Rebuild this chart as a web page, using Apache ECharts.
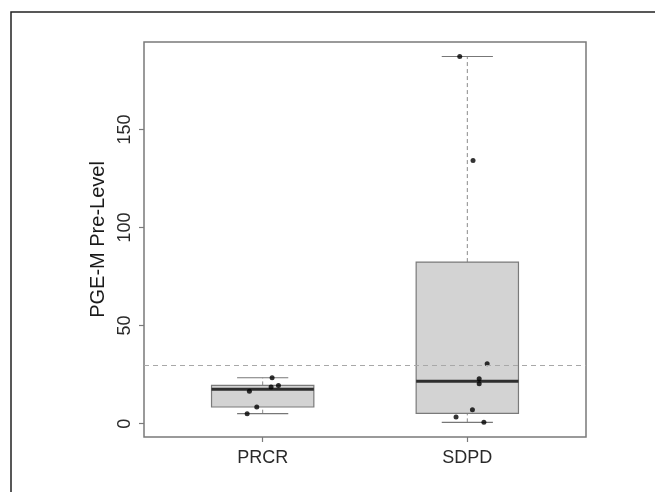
<!DOCTYPE html>
<html>
<head>
<meta charset="utf-8">
<script src="https://cdn.jsdelivr.net/npm/echarts@6/dist/echarts.min.js"></script>
<style>
  html, body { margin: 0; padding: 0; background: #fff; }
  #chart { width: 655px; height: 492px; }
</style>
</head>
<body>
<div id="chart"></div>
<script>
// Group names on the x axis
const categories = ['PRCR', 'SDPD'];

// Individual PGE-M pre-levels per group
const prcrValues = [23.4, 18.7, 19.5, 16.5, 8.5, 5.1];
const sdpdValues = [187.2, 134.2, 30.6, 22.9, 20.4, 7.1, 3.4, 0.66];

// Horizontal jitter of each point (in group units, around the group centre)
const prcrJitter = [0.046, 0.041, 0.077, -0.065, -0.029, -0.076];
const sdpdJitter = [-0.037, 0.028, 0.097, 0.058, 0.058, 0.025, -0.055, 0.081];

// Reference level drawn as a dashed line
const thresholdLevel = 30;

// Tick positions on the value axis
const yTicks = [0, 50, 100, 150];

// Tukey five-number summary (same hinges as R's fivenum)
function fivenum(values) {
  const x = values.slice().sort((a, b) => a - b);
  const n = x.length;
  const n4 = Math.floor((n + 3) / 2) / 2;
  const d = [1, n4, (n + 1) / 2, n + 1 - n4, n];
  return d.map(p => 0.5 * (x[Math.floor(p) - 1] + x[Math.ceil(p) - 1]));
}

// Box statistics with whiskers at the most extreme points within 1.5 IQR
function boxStats(values, pos) {
  const f = fivenum(values);
  const iqr = f[3] - f[1];
  const inside = values.filter(v => v >= f[1] - 1.5 * iqr && v <= f[3] + 1.5 * iqr);
  return [pos, Math.min.apply(null, inside), f[1], f[2], f[3], Math.max.apply(null, inside)];
}

const groups = [prcrValues, sdpdValues];
const jitters = [prcrJitter, sdpdJitter];
const boxData = groups.map((vals, i) => boxStats(vals, i + 1));
const pointData = [];
groups.forEach((vals, i) => {
  vals.forEach((v, k) => pointData.push([i + 1 + jitters[i][k], v]));
});

const FONT = '"Liberation Sans", Arial, Helvetica, sans-serif';
const BOX_HALF = 0.25;
const CAP_HALF = 0.125;

function renderBox(params, api) {
  const x = api.value(0);
  const lo = api.value(1), q1 = api.value(2), med = api.value(3), q3 = api.value(4), hi = api.value(5);
  const c = (xv, yv) => api.coord([xv, yv]);
  const pLo = c(x, lo), pQ1 = c(x, q1), pQ3 = c(x, q3), pHi = c(x, hi);
  const tl = c(x - BOX_HALF, q3), br = c(x + BOX_HALF, q1);
  const mL = c(x - BOX_HALF, med), mR = c(x + BOX_HALF, med);
  const capHiL = c(x - CAP_HALF, hi), capHiR = c(x + CAP_HALF, hi);
  const capLoL = c(x - CAP_HALF, lo), capLoR = c(x + CAP_HALF, lo);
  const whisker = { stroke: '#8a8a8a', lineWidth: 1, lineDash: [4, 3] };
  const cap = { stroke: '#777', lineWidth: 1.2 };
  return {
    type: 'group',
    children: [
      { type: 'line', shape: { x1: pQ3[0], y1: pQ3[1], x2: pHi[0], y2: pHi[1] }, style: whisker },
      { type: 'line', shape: { x1: pLo[0], y1: pLo[1], x2: pQ1[0], y2: pQ1[1] }, style: whisker },
      { type: 'line', shape: { x1: capHiL[0], y1: capHiL[1], x2: capHiR[0], y2: capHiR[1] }, style: cap },
      { type: 'line', shape: { x1: capLoL[0], y1: capLoL[1], x2: capLoR[0], y2: capLoR[1] }, style: cap },
      {
        type: 'rect',
        shape: { x: tl[0], y: tl[1], width: br[0] - tl[0], height: br[1] - tl[1] },
        style: { fill: '#d3d3d3', stroke: '#7a7a7a', lineWidth: 1.2 }
      },
      { type: 'line', shape: { x1: mL[0], y1: mL[1], x2: mR[0], y2: mR[1] }, style: { stroke: '#2e2e2e', lineWidth: 3 } }
    ]
  };
}

const chart = echarts.init(document.getElementById('chart'), null, { renderer: 'canvas' });

chart.setOption({
  animation: false,
  backgroundColor: '#fff',
  textStyle: { fontFamily: FONT },
  graphic: [{
    type: 'rect',
    shape: { x: 11, y: 12, width: 720, height: 600 },
    style: { fill: 'none', stroke: '#222', lineWidth: 1.5 },
    silent: true
  }],
  grid: {
    left: 144, top: 42, width: 442, height: 395,
    show: true, borderColor: '#7a7a7a', borderWidth: 1.5, backgroundColor: 'transparent'
  },
  xAxis: {
    type: 'value',
    min: 0.42, max: 2.58,
    axisLine: { show: false, onZero: false },
    splitLine: { show: false },
    axisTick: { show: true, customValues: [1, 2], length: 5, inside: false, lineStyle: { color: '#7a7a7a', width: 1.2 } },
    axisLabel: {
      customValues: [1, 2],
      formatter: v => categories[Math.round(v) - 1],
      fontSize: 18, color: '#2a2a2a', margin: 12, fontFamily: FONT
    }
  },
  yAxis: {
    type: 'value',
    min: -6.8, max: 194.6,
    name: 'PGE-M Pre-Level',
    nameLocation: 'middle',
    nameRotate: 90,
    nameGap: 36,
    nameTextStyle: { fontSize: 20, color: '#1a1a1a', fontFamily: FONT },
    axisLine: { show: false, onZero: false },
    splitLine: { show: false },
    axisTick: { show: true, customValues: yTicks, length: 5, inside: false, lineStyle: { color: '#7a7a7a', width: 1.2 } },
    axisLabel: {
      customValues: yTicks,
      rotate: 90,
      fontSize: 18, color: '#2a2a2a', margin: 10, fontFamily: FONT
    }
  },
  series: [
    {
      type: 'custom',
      name: 'box',
      renderItem: renderBox,
      data: boxData,
      encode: { x: 0, y: [1, 2, 3, 4, 5] },
      z: 2,
      silent: true
    },
    {
      type: 'scatter',
      name: 'points',
      data: pointData,
      symbol: 'circle',
      symbolSize: 5,
      itemStyle: { color: '#000' },
      z: 4,
      silent: true,
      markLine: {
        silent: true,
        symbol: ['none', 'none'],
        label: { show: false },
        lineStyle: { color: '#a8a8a8', width: 1.2, type: [5, 4] },
        data: [{ yAxis: thresholdLevel }]
      }
    }
  ]
});
</script>
</body>
</html>
